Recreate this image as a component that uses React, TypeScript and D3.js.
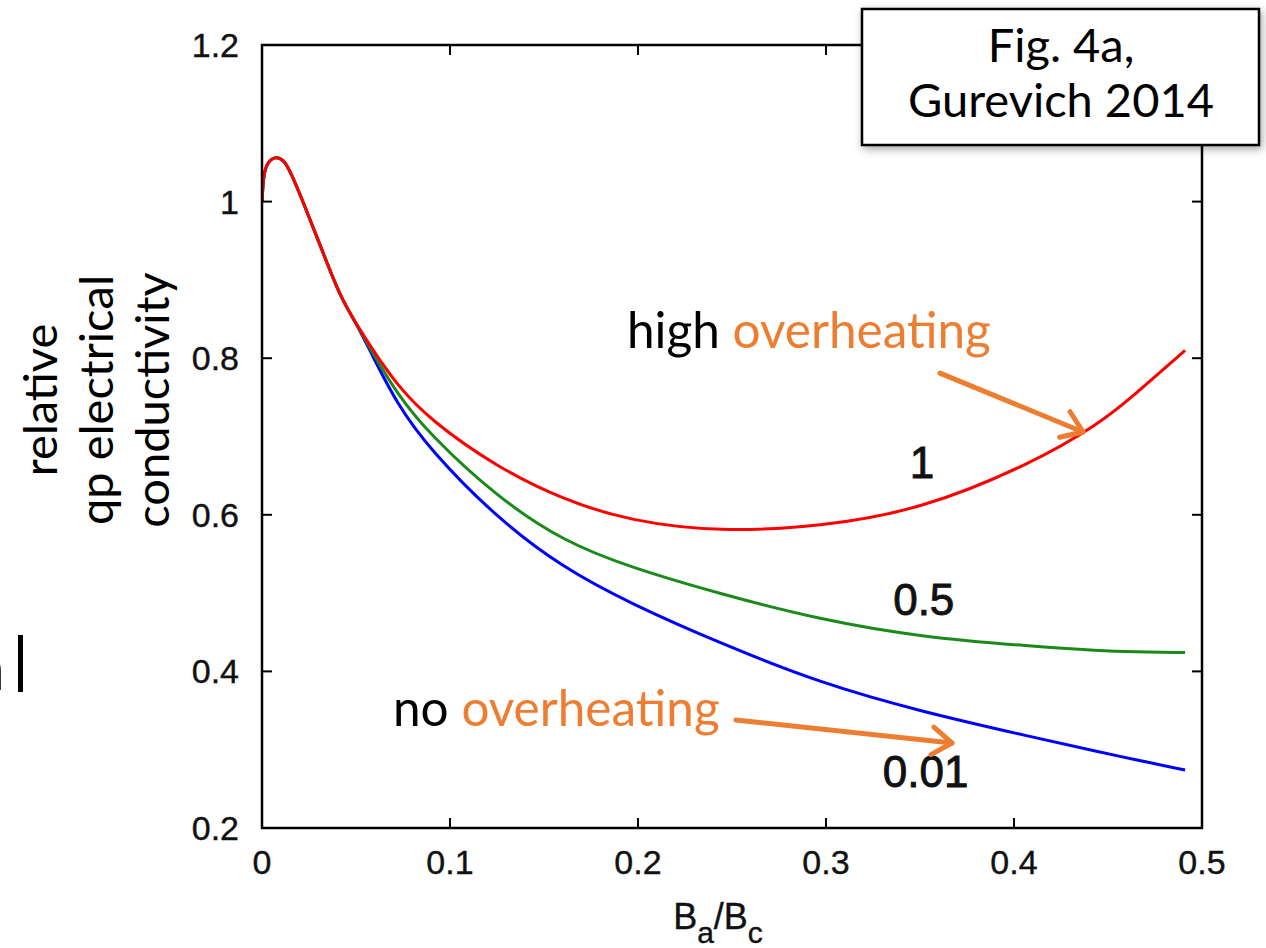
import React from 'react';
import * as d3 from 'd3';

// B_a / B_c grid shared by all curves
const bRatio = [0, 0.0007, 0.0025, 0.0069, 0.0113, 0.0149, 0.0238, 0.0326, 0.0415, 0.0504, 0.0574, 0.0716, 0.0894, 0.1248, 0.1603, 0.1957, 0.2436, 0.297, 0.35, 0.41, 0.4457, 0.463, 0.491];
// relative qp conductivity for overheating parameter 1
const sigmaOne = [1.0, 1.032, 1.049, 1.058, 1.054, 1.04, 0.988, 0.934, 0.879, 0.843, 0.816, 0.766, 0.721, 0.661, 0.619, 0.592, 0.578, 0.585, 0.606, 0.666, 0.717, 0.751, 0.81];
// overheating parameter 0.5
const sigmaHalf = [1.0, 1.032, 1.049, 1.058, 1.054, 1.04, 0.988, 0.934, 0.879, 0.843, 0.813, 0.755, 0.702, 0.623, 0.566, 0.533, 0.499, 0.466, 0.444, 0.432, 0.4265, 0.425, 0.424];
// overheating parameter 0.01
const sigmaLow = [1.0, 1.032, 1.049, 1.058, 1.054, 1.04, 0.988, 0.934, 0.879, 0.843, 0.81, 0.742, 0.683, 0.596, 0.532, 0.487, 0.436, 0.385, 0.349, 0.316, 0.297, 0.288, 0.274];

const seriesNames = ['0.01', '0.5', '1'];
const seriesColors = ['#0000ff', '#1a8a1a', '#ff0000'];
const seriesValues = [sigmaLow, sigmaHalf, sigmaOne];
// label anchor positions (data coords)
const labelX = [0.353, 0.352, 0.351];
const labelY = [0.252, 0.472, 0.647];

const xTicks = [0, 0.1, 0.2, 0.3, 0.4, 0.5];
const yTicks = [0.2, 0.4, 0.6, 0.8, 1, 1.2];

const ORANGE = '#ed7d31';
const AXIS_FONT = '"Liberation Sans", Arial, Helvetica, sans-serif';
const TEXT_FONT = 'Lato, "Open Sans", sans-serif';

function Arrow({ x1, y1, x2, y2 }: { x1: number; y1: number; x2: number; y2: number }) {
  const ang = Math.atan2(y2 - y1, x2 - x1);
  const L = 24;
  const a = (35 * Math.PI) / 180;
  const p1 = [x2 - L * Math.cos(ang - a), y2 - L * Math.sin(ang - a)];
  const p2 = [x2 - L * Math.cos(ang + a), y2 - L * Math.sin(ang + a)];
  return (
    <g stroke={ORANGE} strokeWidth={5} fill="none" strokeLinecap="round" strokeLinejoin="round">
      <line x1={x1} y1={y1} x2={x2} y2={y2} />
      <polyline points={`${p1[0]},${p1[1]} ${x2},${y2} ${p2[0]},${p2[1]}`} />
    </g>
  );
}

export default function App() {
  const W = 1266;
  const H = 948;
  const x = d3.scaleLinear().domain([0, 0.5]).range([262, 1202]);
  const y = d3.scaleLinear().domain([0.2, 1.2]).range([828, 45]);

  const line = d3
    .line<number>()
    .x((_, i) => x(bRatio[i]))
    .y((d) => y(d))
    .curve(d3.curveBasis);

  const tickLen = 10;

  return (
    <svg width={W} height={H} style={{ position: 'absolute', left: 0, top: 0, background: '#fff' }}>
      <defs>
        <filter id="shadow" x="-10%" y="-20%" width="120%" height="140%">
          <feDropShadow dx="2" dy="3" stdDeviation="4" floodColor="#000" floodOpacity="0.35" />
        </filter>
        <clipPath id="plotclip">
          <rect x={262} y={45} width={940} height={783} />
        </clipPath>
      </defs>
      <rect x={0} y={0} width={W} height={H} fill="#fff" />

      {/* cut-off left fragment */}
      <text x={-26} y={690} fontFamily={TEXT_FONT} fontSize={62} fill="#000">a</text>
      <rect x={18} y={635} width={5} height={57} fill="#000" />

      {/* curves */}
      <g clipPath="url(#plotclip)">
        {seriesValues.map((vals, i) => (
          <path key={seriesNames[i]} d={line(vals) || ''} fill="none" stroke={seriesColors[i]} strokeWidth={3} />
        ))}
      </g>

      {/* frame */}
      <rect x={262} y={45} width={940} height={783} fill="none" stroke="#000" strokeWidth={2.5} />

      {/* ticks */}
      <g stroke="#000" strokeWidth={2}>
        {xTicks.slice(1, -1).map((t) => (
          <g key={'xt' + t}>
            <line x1={x(t)} x2={x(t)} y1={828} y2={828 - tickLen} />
            <line x1={x(t)} x2={x(t)} y1={45} y2={45 + tickLen} />
          </g>
        ))}
        {yTicks.slice(1, -1).map((t) => (
          <g key={'yt' + t}>
            <line x1={262} x2={262 + tickLen} y1={y(t)} y2={y(t)} />
            <line x1={1202} x2={1202 - tickLen} y1={y(t)} y2={y(t)} />
          </g>
        ))}
      </g>

      {/* tick labels */}
      <g fontFamily={AXIS_FONT} fontSize={34} fill="#111" stroke="#111" strokeWidth={0.4}>
        {xTicks.map((t) => (
          <text key={'xl' + t} x={x(t)} y={874} textAnchor="middle">{String(t)}</text>
        ))}
        {yTicks.map((t) => (
          <text key={'yl' + t} x={239} y={y(t) + 12} textAnchor="end">{String(t)}</text>
        ))}
      </g>

      {/* x axis label */}
      <text x={718} y={929} textAnchor="middle" fontFamily={AXIS_FONT} fontSize={36} fill="#111" stroke="#111" strokeWidth={0.4}>
        B<tspan fontSize={30} dy={14}>a</tspan>
        <tspan dy={-14}>/B</tspan>
        <tspan fontSize={30} dy={14}>c</tspan>
      </text>

      {/* y axis label */}
      <g transform="translate(0,400) rotate(-90)" fontFamily={TEXT_FONT} fontSize={47} fill="#000" textAnchor="middle">
        <text x={0} y={57}>relative</text>
        <text x={0} y={113}>qp electrical</text>
        <text x={0} y={169}>conductivity</text>
      </g>

      {/* curve labels */}
      <g fontFamily={AXIS_FONT} fontSize={44} fill="#111" stroke="#111" strokeWidth={0.9} textAnchor="middle">
        {seriesNames.map((n, i) => (
          <text key={'lab' + n} x={x(labelX[i])} y={y(labelY[i])}>{n}</text>
        ))}
      </g>

      {/* annotations */}
      <text x={627} y={348} fontFamily={TEXT_FONT} fontSize={49.5} fill="#000">
        high <tspan fill={ORANGE}>overheating</tspan>
      </text>
      <Arrow x1={x(0.3606)} y1={y(0.781)} x2={x(0.4367)} y2={y(0.7058)} />
      <text x={393} y={726} fontFamily={TEXT_FONT} fontSize={49.5} fill="#000">
        no <tspan fill={ORANGE}>overheating</tspan>
      </text>
      <Arrow x1={x(0.2521)} y1={y(0.338)} x2={x(0.367)} y2={y(0.3086)} />

      {/* figure reference box */}
      <rect x={862} y={9} width={397} height={136} fill="#fff" stroke="#000" strokeWidth={2.5} filter="url(#shadow)" />
      <g fontFamily={TEXT_FONT} fontSize={47} fill="#000" textAnchor="middle">
        <text x={1061} y={62}>Fig. 4a,</text>
        <text x={1061} y={117}>Gurevich 2014</text>
      </g>
    </svg>
  );
}
